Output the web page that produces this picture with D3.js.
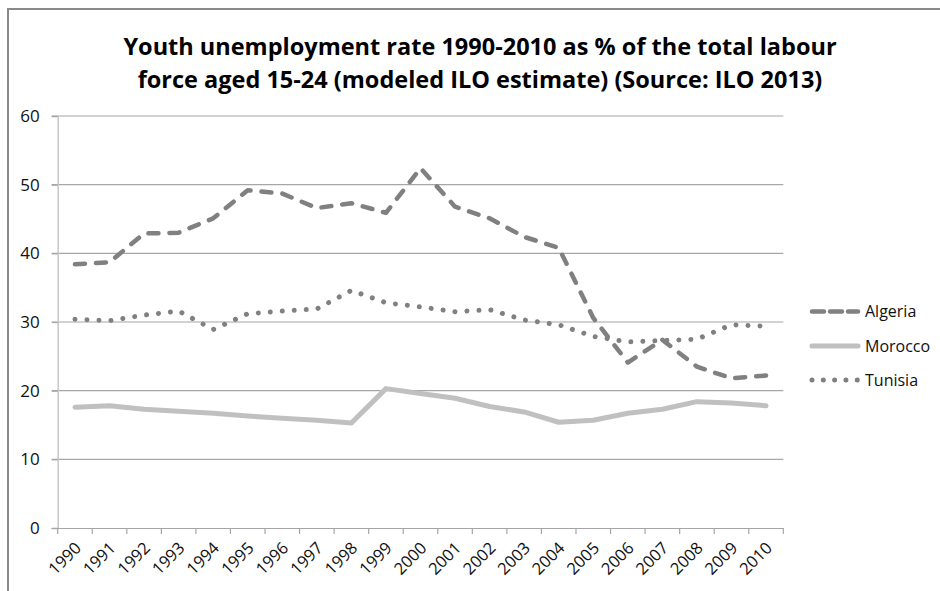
<!DOCTYPE html>
<html><head><meta charset="utf-8">
<script src="https://cdn.jsdelivr.net/npm/d3@7"></script>
<style>body{margin:0;background:#fff}svg{display:block}text{font-family:"Open Sans",sans-serif}</style>
</head><body>
<svg id="c" width="940" height="591"></svg>
<script>
const years = ["1990","1991","1992","1993","1994","1995","1996","1997","1998","1999","2000","2001","2002","2003","2004","2005","2006","2007","2008","2009","2010"];
const algeria = [38.4,38.7,42.9,43.0,45.1,49.2,48.7,46.6,47.3,45.9,52.4,46.8,45.1,42.4,40.8,30.6,24.1,27.4,23.5,21.8,22.2];
const morocco = [17.6,17.8,17.3,17.0,16.7,16.3,16.0,15.7,15.3,20.3,19.6,18.9,17.7,16.9,15.4,15.7,16.7,17.3,18.4,18.2,17.8];
const tunisia = [30.4,30.2,31.0,31.6,28.9,31.2,31.6,31.9,34.6,32.8,32.2,31.5,31.8,30.3,29.6,27.9,27.1,27.3,27.5,29.6,29.4];
const yTicks = [0,10,20,30,40,50,60];
const seriesNames = ["Algeria","Morocco","Tunisia"];
const titleLines = ["Youth unemployment rate 1990-2010 as % of the total labour","force aged 15-24 (modeled ILO estimate) (Source: ILO 2013)"];

const svg = d3.select("#c");
const L = 57.7, R = 783.3, T = 116, B = 528;
const x = d3.scaleBand().domain(years).range([L, R]);
const y = d3.scaleLinear().domain([0, 60]).range([B, T]);

// border
svg.append("path").attr("d","M8,591V9H940").attr("fill","none").attr("stroke","#8a8a8a").attr("stroke-width",2);

// title
svg.append("g").selectAll("text").data(titleLines).join("text")
  .attr("x", 480).attr("y", (d,i)=> 55 + i*33)
  .attr("text-anchor","middle").attr("font-weight","bold").attr("font-size",23.5).attr("fill","#000")
  .text(d=>d);

// gridlines
svg.append("g").selectAll("line").data(yTicks.filter(d=>d>0)).join("line")
  .attr("x1", L-6).attr("x2", R).attr("y1", d=>y(d)).attr("y2", d=>y(d))
  .attr("stroke","#a6a6a6").attr("stroke-width",1.2);

// y axis
const ya = svg.append("g").attr("transform",`translate(${L},0)`)
  .call(d3.axisLeft(y).tickValues(yTicks).tickSize(6).tickPadding(12));
ya.select(".domain").attr("stroke","#c8c8c8").attr("stroke-width",1.5);
ya.selectAll(".tick line").attr("stroke","#a6a6a6").attr("stroke-width",1.2);
ya.selectAll("text").attr("font-size",17).attr("fill","#111").attr("font-family","'Open Sans',sans-serif");

// x axis
const xa = svg.append("g").attr("transform",`translate(0,${B})`)
  .call(d3.axisBottom(x).tickSize(0).tickFormat(""));
xa.select(".domain").attr("stroke","#a6a6a6").attr("stroke-width",1.2).attr("d",`M${L-6},0.5H${R}`);
svg.append("g").selectAll("line").data(years.concat(["end"])).join("line")
  .attr("x1",(d,i)=> i<years.length ? x(d) : R).attr("x2",(d,i)=> i<years.length ? x(d) : R)
  .attr("y1",B).attr("y2",B+6).attr("stroke","#a6a6a6").attr("stroke-width",1.2);
svg.append("g").selectAll("text").data(years).join("text")
  .attr("transform", d=>`translate(${x(d)+x.bandwidth()/2+3},${B+17}) rotate(-45)`)
  .attr("text-anchor","end").attr("dy","0.35em").attr("font-size",16.5).attr("fill","#111")
  .text(d=>d);

const cx = d => x(d) + x.bandwidth()/2;
const line = d3.line().x((v,i)=>cx(years[i])).y(v=>y(v));

const styles = {
  Algeria:{data:algeria, color:"#808080", w:4.5, dash:"10,11"},
  Morocco:{data:morocco, color:"#c0c0c0", w:5, dash:null},
  Tunisia:{data:tunisia, color:"#808080", w:5, dash:"0.01,12"}
};
["Morocco","Tunisia","Algeria"].forEach(n=>{
  const s = styles[n];
  svg.append("path").datum(s.data).attr("d",line).attr("fill","none")
    .attr("stroke",s.color).attr("stroke-width",s.w).attr("stroke-linecap","round").attr("stroke-linejoin","round")
    .attr("stroke-dasharray",s.dash);
});

// legend
const lg = svg.append("g");
seriesNames.forEach((n,i)=>{
  const s = styles[n];
  const yy = [311.5,346,380][i];
  lg.append("line").attr("x1",812).attr("x2",858).attr("y1",yy).attr("y2",yy)
    .attr("stroke",s.color).attr("stroke-width",s.w).attr("stroke-linecap","round")
    .attr("stroke-dasharray", n==="Algeria" ? "12,6" : n==="Tunisia" ? "0.01,11.3" : null);
  lg.append("text").attr("x", 865).attr("y", yy).attr("dy","0.35em").attr("font-size",16).attr("fill","#111").text(n);
});
</script></body></html>
